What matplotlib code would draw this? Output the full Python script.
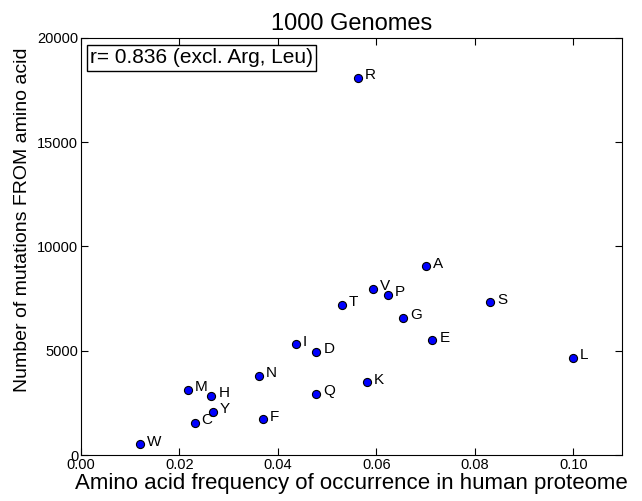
import numpy as np
import matplotlib
matplotlib.use("Agg")
import matplotlib.pyplot as plt

plt.rcParams["font.family"] = ["Liberation Sans", "DejaVu Sans"]

# amino acid one-letter codes, frequency in proteome, mutation counts
AMINO = ["W", "C", "M", "H", "Y", "F", "N", "Q", "I", "D",
         "K", "T", "V", "P", "G", "A", "E", "S", "L", "R"]
FREQ = [0.0120, 0.0231, 0.0217, 0.0265, 0.0268, 0.0370, 0.0362, 0.0478, 0.0437, 0.0478,
        0.0580, 0.0530, 0.0593, 0.0624, 0.0655, 0.0700, 0.0714, 0.0831, 0.1000, 0.0563]
MUTS = [513, 1549, 3117, 2845, 2062, 1712, 3789, 2940, 5309, 4954,
        3487, 7209, 7976, 7674, 6585, 9050, 5501, 7323, 4652, 18095]

R_TEXT = "r= 0.836 (excl. Arg, Leu)"

fig = plt.figure(figsize=(6.42, 5.01), dpi=100)
ax = fig.add_axes([0.1262, 0.0918, 0.8434, 0.8324])

ax.scatter(FREQ, MUTS, s=34, c="#0000ff", edgecolors="black", linewidths=0.8, zorder=3)
for aa, x, y in zip(AMINO, FREQ, MUTS):
    ax.annotate(aa, (x, y), xytext=(5, 2), textcoords="offset points",
                va="center", ha="left", fontsize=11)

ax.set_xlim(0, 0.11)
ax.set_ylim(0, 20000)
ax.set_xticks([0.00, 0.02, 0.04, 0.06, 0.08, 0.10])
ax.set_xticklabels(["0.00", "0.02", "0.04", "0.06", "0.08", "0.10"])
ax.set_yticks([0, 5000, 10000, 15000, 20000])
ax.tick_params(direction="in", top=True, right=True, length=5, width=0.8, labelsize=10.5, pad=2)

ax.set_title("1000 Genomes", fontsize=17, pad=6)
ax.set_xlabel("Amino acid frequency of occurrence in human proteome", fontsize=16, labelpad=1)
ax.set_ylabel("Number of mutations FROM amino acid", fontsize=14)
ax.yaxis.set_label_coords(-0.093, 0.564)

ax.text(0.017, 0.975, R_TEXT, transform=ax.transAxes, fontsize=15, va="top", ha="left",
        bbox=dict(boxstyle="square,pad=0.15", facecolor="white", edgecolor="black", linewidth=1))

fig.savefig("out.png", dpi=100)
